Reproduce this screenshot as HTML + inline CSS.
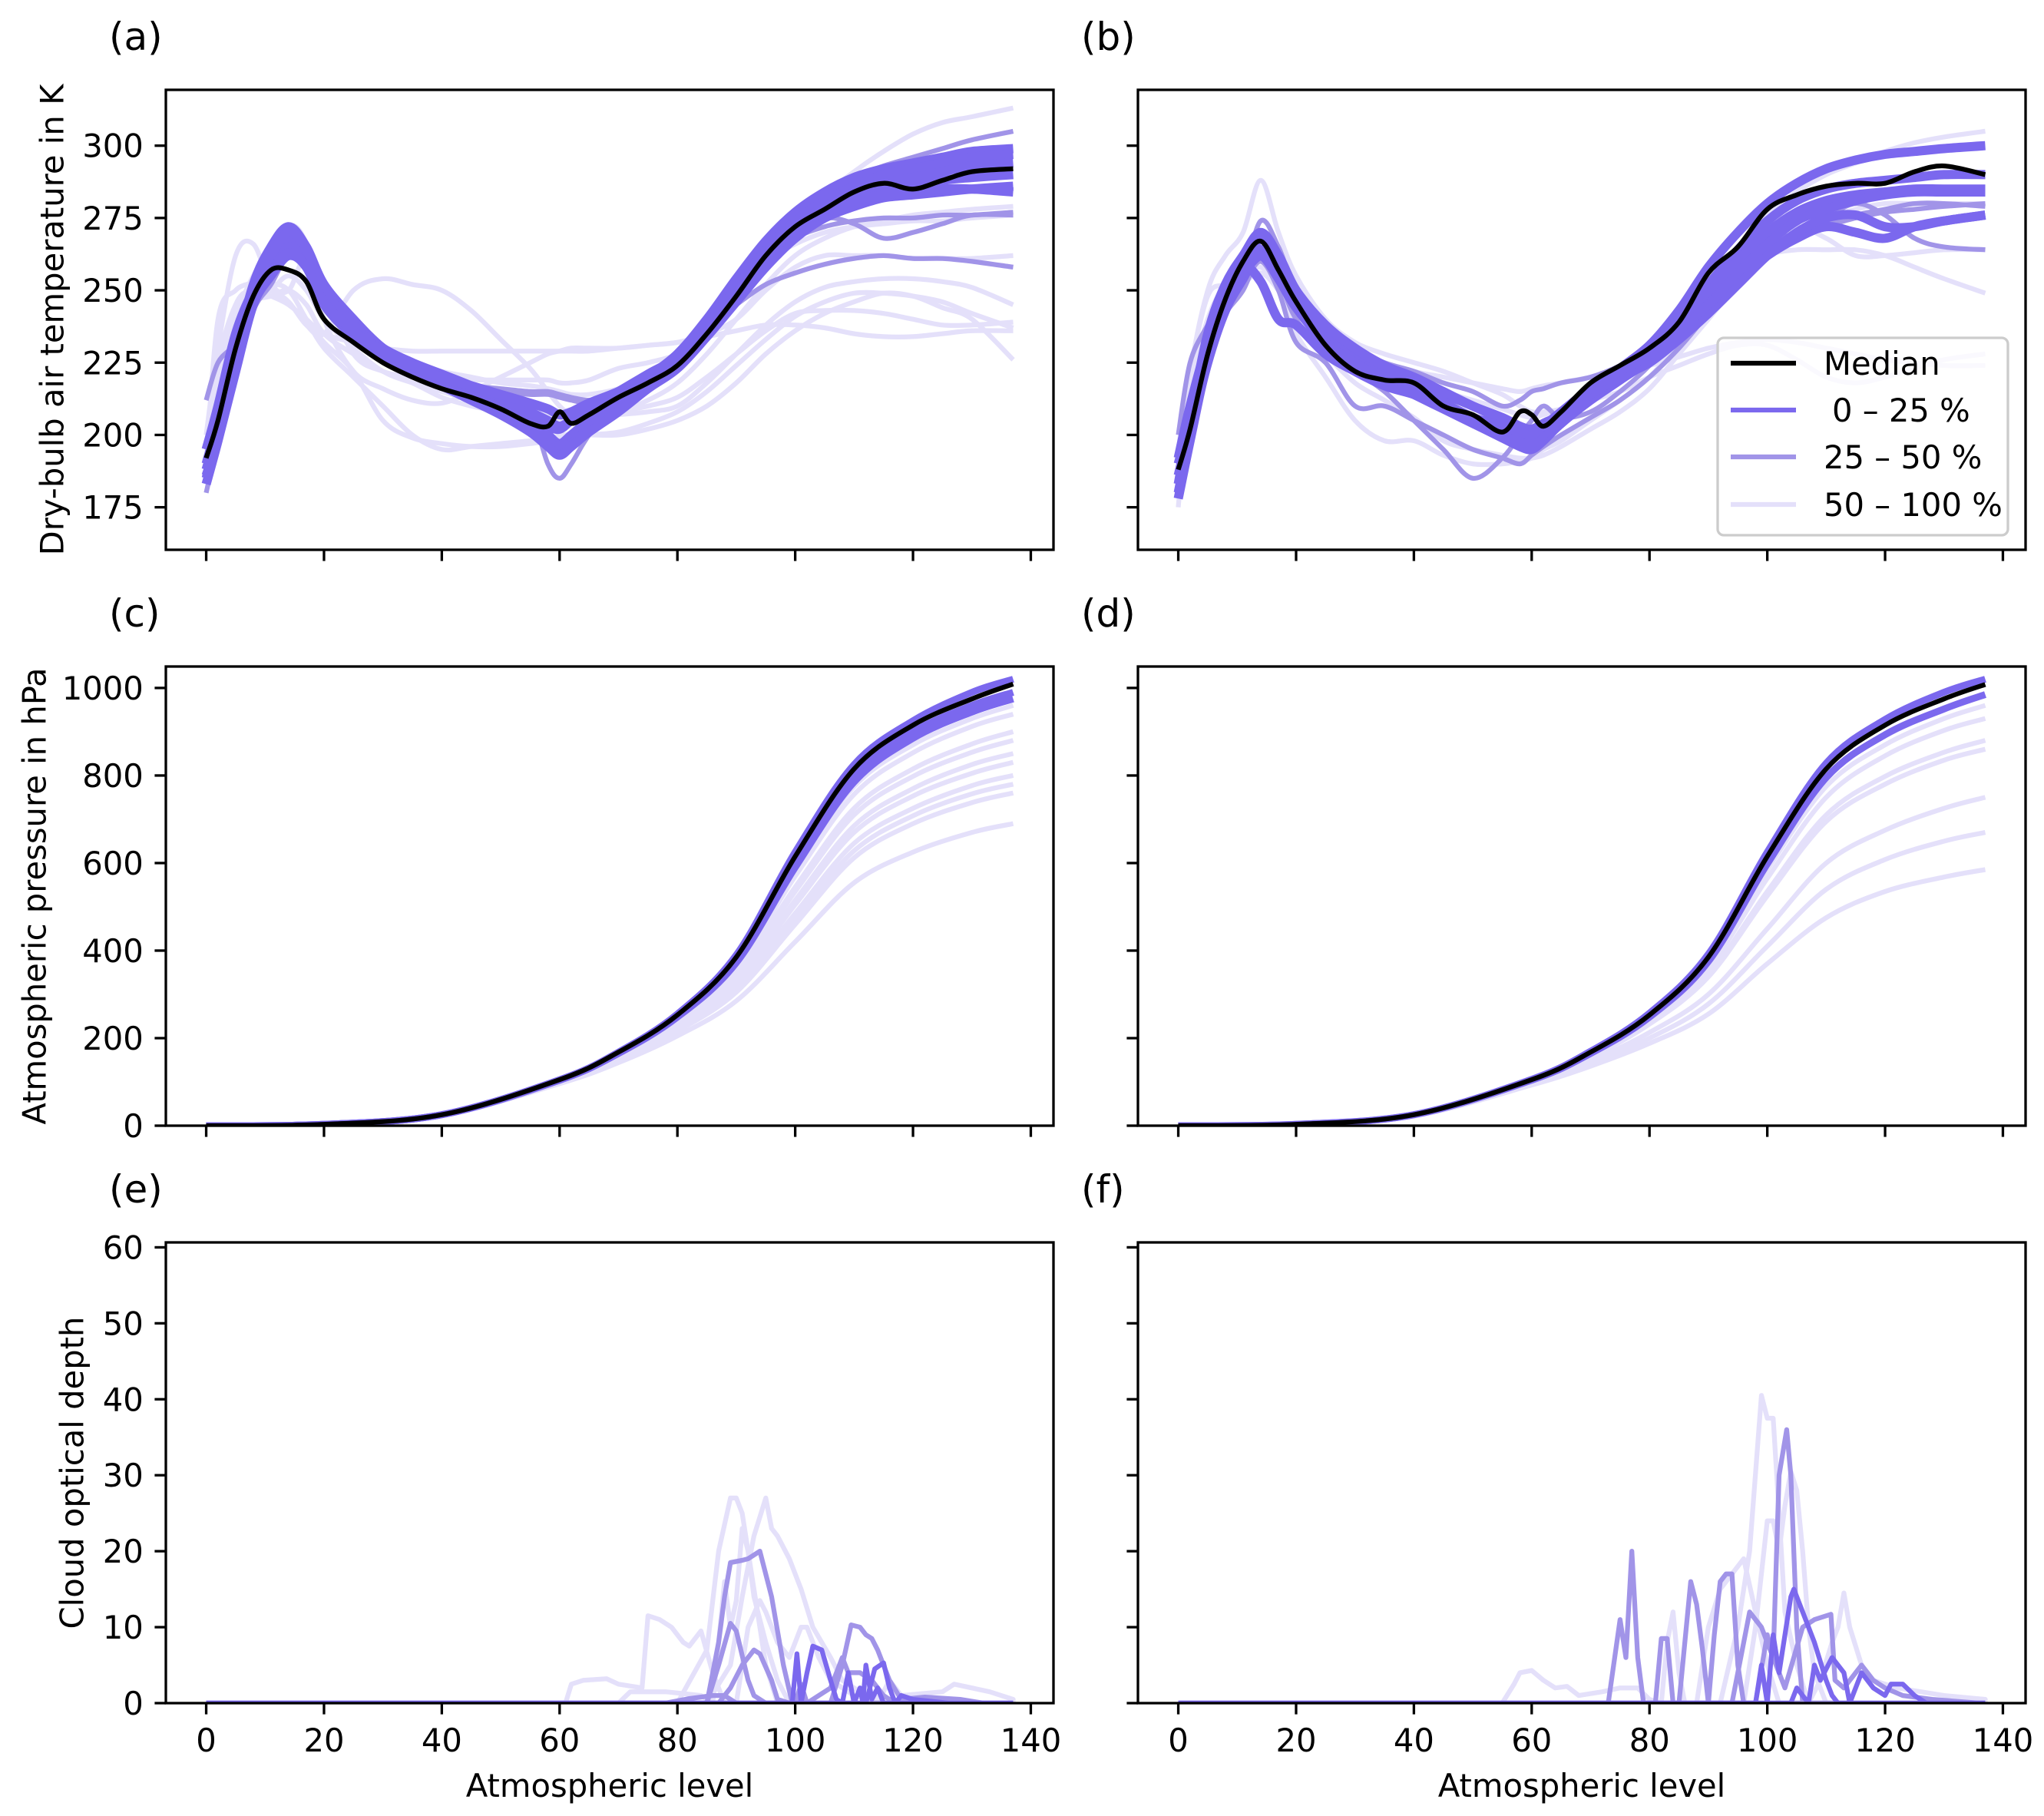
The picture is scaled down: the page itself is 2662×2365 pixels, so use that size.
<!DOCTYPE html>
<html><head><meta charset="utf-8"><style>
html,body{margin:0;padding:0;background:#fff}
svg{display:block}
text{font-family:"DejaVu Sans","Liberation Sans",sans-serif;fill:#000}
</style></head><body>
<svg id="fig" xmlns="http://www.w3.org/2000/svg" width="2662" height="2365" viewBox="0 0 2662 2365"></svg>
<script>
// ---------- data ----------
const levelsT = [0,2,5,8,11,14,17,20,25,30,35,40,45,50,55,58,60,62,65,70,75,80,85,90,95,100,105,110,115,120,125,130,137];
const levelsP = [0,20,40,60,70,80,90,100,110,120,130,137];
const xTicks = [0,20,40,60,80,100,120,140];
const yTicksT = [175,200,225,250,275,300];
const yTicksP = [0,200,400,600,800,1000];
const yTicksC = [0,10,20,30,40,50,60];
const legendLabels = ["Median","0 – 25 %","25 – 50 %","50 – 100 %"];

// panel a: temperature
const aMedian = [192,205,230,248,257,257,253,240,232,225,220,216,213,209,204,203,208,204,207,213,218,224,235,248,262,272,278,284,287,285,288,291,292];
const aDark1 = [185,200,228,252,265,272,265,252,240,230,224,219,215,210,205,200,197,200,205,212,220,228,240,254,267,277,284,289,292,294,296,298,299];
const aDark2 = [195,210,235,250,260,268,262,248,236,228,222,218,214,210,206,203,202,205,209,215,221,227,238,251,264,274,281,286,290,292,294,296,297];
const aDark3 = [183,198,222,245,255,262,258,245,234,226,221,217,213,208,203,198,195,197,202,210,217,224,236,249,262,272,279,284,287,289,291,293,294];
const aDark4 = [188,203,228,248,258,265,260,248,238,230,225,221,217,213,208,205,203,205,208,214,219,225,235,247,259,269,276,281,284,286,288,289,290];
const aDark5 = [190,205,230,250,262,270,264,250,238,228,222,217,212,207,201,196,193,196,201,208,216,223,234,246,258,268,275,279,282,283,284,285,286];
const aDark6 = [186,199,224,246,256,263,258,246,236,229,224,220,217,214,211,209,207,208,211,215,220,226,237,249,261,271,277,281,283,284,285,285,284];
const aMid1 = [212,225,232,246,253,262,260,247,235,228,222,218,214,211,207,190,185,190,200,212,220,227,237,245,252,256,259,261,262,261,261,260,258];
const aMid2 = [180,198,225,248,258,270,264,250,238,230,224,220,217,215,214,214,213,212,211,212,216,224,236,248,260,268,272,274,275,275,276,276,277];
const aMid3 = [185,200,222,243,252,262,258,245,235,228,222,219,217,216,215,215,214,213,212,213,218,226,238,250,262,270,275,273,268,270,273,276,276];
const aMid4 = [190,205,230,248,258,272,266,250,238,230,224,219,215,211,206,200,197,199,204,211,219,226,238,252,266,276,283,289,293,296,299,302,305];
const aLight1 = [200,230,262,266,252,250,262,250,228,222,220,219,219,219,219,219,218,218,219,223,225,228,235,248,262,274,283,291,298,304,308,310,313];
const aLight2 = [190,240,250,253,258,272,266,240,222,216,212,211,215,220,225,228,229,230,230,230,231,232,235,240,250,258,262,262,262,261,261,261,262];
const aLight3 = [195,225,245,250,250,245,240,232,222,205,199,197,196,196,197,198,200,200,200,200,202,205,210,218,228,236,242,246,249,248,244,240,226];
const aLight4 = [190,210,235,248,252,250,240,230,220,210,200,195,196,197,198,199,199,199,200,201,204,208,215,224,233,241,246,249,249,248,246,242,237];
const aLight5 = [195,215,240,250,250,246,238,235,250,254,252,250,243,233,223,215,210,207,206,207,208,210,218,228,238,246,251,253,254,254,253,251,245];
const aLight6 = [190,215,238,246,248,250,245,235,228,222,218,213,210,208,206,205,205,205,206,208,210,213,220,228,236,242,243,243,242,240,238,238,239];
const aLight7 = [195,215,240,255,262,268,260,250,240,230,225,222,220,218,217,216,215,214,214,216,220,226,238,250,260,266,270,272,273,274,274,275,276];
const aLight8 = [192,210,230,245,250,255,250,240,230,222,218,215,212,210,208,207,206,205,206,208,212,218,228,240,252,262,268,272,274,276,277,278,279];
const aLight9 = [188,220,245,250,248,245,240,235,232,230,229,229,229,229,229,229,229,229,229,230,231,232,234,236,238,238,237,235,234,234,235,236,236];

// panel b: temperature
const bMedian = [188,202,228,247,260,267,257,246,231,222,219,218,210,207,201,208,207,203,208,218,224,230,239,256,265,278,283,286,287,287,291,293,290];
const bDark1 = [183,205,235,252,262,270,262,250,236,228,222,218,214,210,205,201,199,202,207,215,223,231,243,258,270,280,287,292,295,297,298,299,300];
const bDark2 = [192,210,232,248,256,262,258,248,234,226,220,216,211,206,201,197,196,199,204,213,221,228,239,252,264,274,281,285,287,288,289,290,290];
const bDark3 = [180,200,225,243,254,264,258,246,232,224,219,214,209,204,199,196,195,198,204,212,219,226,236,249,260,270,277,281,283,284,285,285,285];
const bDark4 = [186,203,229,246,256,268,262,250,238,230,224,220,215,210,206,203,202,204,207,214,220,226,234,244,254,262,268,272,270,268,272,274,276];
const bDark5 = [178,198,226,246,256,262,254,244,232,225,219,215,210,205,200,198,197,200,206,214,220,225,233,242,252,262,270,275,276,272,272,274,276];
const bDark6 = [190,205,230,248,258,253,240,238,228,222,217,214,210,206,203,201,200,203,208,216,222,228,236,245,256,266,274,278,281,283,284,284,284];
const bMid1 = [186,205,230,242,250,262,254,240,228,222,215,205,195,185,192,200,205,210,206,208,215,224,236,248,258,266,270,275,280,276,268,265,264];
const bMid2 = [200,225,238,248,255,274,265,250,238,230,225,222,218,215,210,212,215,216,218,220,224,230,238,246,254,262,268,273,276,278,280,280,279];
const bMid3 = [192,210,232,245,252,260,250,232,225,210,210,205,200,195,192,190,193,196,200,206,212,220,230,242,254,262,268,272,275,277,278,279,280];
const bLight1 = [175,220,250,262,270,288,270,255,240,232,228,225,222,218,214,210,208,208,209,213,220,228,240,253,265,276,284,290,294,298,301,303,305];
const bLight2 = [190,215,240,252,258,262,255,245,236,228,222,218,215,212,209,207,206,207,209,212,215,220,224,228,231,231,226,220,218,220,223,226,228];
const bLight3 = [188,215,240,250,254,258,250,235,220,205,198,198,193,190,190,191,192,195,198,205,212,220,232,245,255,262,264,264,264,262,258,254,249];
const bLight4 = [180,210,238,252,258,262,256,245,232,224,220,218,215,210,205,200,198,200,205,213,220,228,238,250,260,268,272,268,262,262,263,264,264];
const bLight5 = [195,222,248,252,255,265,255,240,228,218,212,206,198,195,193,192,192,193,196,202,208,216,228,240,252,262,270,275,278,280,280,280,280];
const bLight6 = [185,210,232,245,252,256,250,240,232,228,225,222,220,218,216,215,216,217,218,220,222,224,227,230,232,233,232,230,228,226,225,224,224];

// panel c: pressure
const cMedian = [0,3,25,105,168,253,385,615,815,915,975,1009];
const cDark1 = [0,3,25,105,168,255,390,625,825,925,990,1020];
const cDark2 = [0,3,25,104,166,250,378,600,800,900,960,990];
const cDark3 = [0,3,25,104,165,248,372,590,785,885,945,975];
const cLight1 = [0,3,25,104,165,247,370,585,775,870,930,960];
const cLight2 = [0,3,25,103,163,244,362,570,757,852,912,940];
const cLight3 = [0,3,24,102,160,238,350,545,725,815,872,900];
const cLight4 = [0,3,24,101,158,235,345,535,710,798,853,880];
const cLight5 = [0,3,24,100,156,230,335,515,685,770,825,850];
const cLight6 = [0,3,24,100,155,228,330,505,670,753,805,830];
const cLight7 = [0,3,24,99,152,222,320,485,645,725,777,800];
const cLight8 = [0,3,24,98,150,219,313,472,628,708,758,780];
const cLight9 = [0,3,24,98,149,216,305,460,612,690,738,760];
const cLight10 = [0,3,23,96,144,205,285,420,555,625,670,690];

// panel d: pressure
const dMedian = [0,3,25,105,168,253,385,615,815,915,975,1008];
const dDark1 = [0,3,25,106,170,257,392,625,828,928,990,1020];
const dDark2 = [0,3,25,104,165,248,375,598,795,893,952,985];
const dLight1 = [0,3,25,104,165,247,370,585,775,870,930,960];
const dLight2 = [0,3,25,103,162,242,360,565,750,845,903,930];
const dLight3 = [0,3,24,101,158,235,345,535,710,798,853,880];
const dLight4 = [0,3,24,101,157,232,340,525,695,780,835,860];
const dLight5 = [0,3,24,98,148,213,300,450,600,675,725,750];
const dLight6 = [0,3,23,96,142,200,278,410,540,608,650,670];
const dLight7 = [0,3,22,93,136,188,255,370,475,535,568,585];

// panel e: cloud optical depth ([level, value] pairs; zero elsewhere)
const eLight1 = [[61,0],[62,2.5],[64,3],[68,3.2],[70,2.5],[74,2],[75,11.5],[77,11],[79,10],[81,8],[82,7.5],[84,9.5],[86,4],[88,0]];
const eLight2 = [[80,0],[85,7],[87,20],[89,27],[90,27],[91,25],[93,15],[95,5],[97,0]];
const eLight3 = [[85,0],[89,5],[91,14],[93,22],[95,27],[96,23],[97,22],[99,19],[101,15],[103,10],[106,6],[108,3],[112,1],[120,0]];
const eLight4 = [[86,0],[88,16],[89,10],[90,13.5],[91,23],[92,20],[93,14],[95,8],[97,3],[99,0]];
const eLight5 = [[90,0],[92,10],[94,13.5],[95,12],[97,8],[99,6],[101,10],[102,10],[104,6],[106,3],[110,1],[115,0]];
const eLight6 = [[70,0],[72,1.5],[78,1.5],[84,1],[86,0]];
const eLight7 = [[114,0],[116,3],[118,1],[125,1.5],[127,2.5],[133,1.5],[137,0.5]];
const eMid1 = [[85,0],[87,8],[88,14],[89,18.5],[91,18.8],[92,19],[94,20],[96,14],[98,5],[99.5,0]];
const eMid2 = [[85,0],[87,5],[89,10.5],[90,9.5],[92,3],[93,1],[95,0]];
const eMid3 = [[87,0],[89,2],[91,5],[93,7],[94,6.5],[96,3],[97,0.5],[99,0]];
const eMid4 = [[106,0],[108,5],[109.5,10.3],[111,10],[112,9],[113,8.5],[114,7],[116,3],[118,0.5],[122,0.8],[128,0.5],[132,0]];
const eMid5 = [[100,0],[101,2.5],[102,0],[104,1],[106,2],[108,6],[109,4],[111,4],[113,3],[115,1],[117,0]];
const eMid6 = [[78,0],[82,0.6],[86,1],[88,1],[90,0]];
const eDark1 = [[99.5,0],[100.3,6.5],[101,0],[102,4],[103,7.5],[104.5,7],[106,3],[107,0.5],[108,0],[109,4],[110,0],[111,2],[111.5,0],[112,5],[113,0.5],[114,2],[115,0]];
const eDark2 = [[112,0],[113.5,4.5],[115,5.3],[116,2],[117,0],[118,1],[120,0.5],[126,0]];

// panel f: cloud optical depth
const fLight1 = [[55,0],[57,2.5],[58,4],[60,4.3],[62,3],[64,2],[66,2.2],[68,1],[72,1.5],[75,2],[78,2],[80,0.5],[82,0]];
const fLight2 = [[92,0],[95,10],[97,20],[99,40.5],[100,37.5],[101,37.5],[102,25],[103,12],[105,5],[107,0]];
const fLight3 = [[96,0],[98,10],[100,24],[101,24],[102,20],[103,26],[104,30.5],[105,28],[106,20],[107,10],[108,4],[110,0]];
const fLight4 = [[88,0],[90,10],[92,15],[94,17],[96,19],[98,12],[100,5],[102,0]];
const fLight5 = [[107,0],[109,3],[111,8],[112,10],[113,14.5],[114,10],[116,5],[118,3],[122,2],[130,1],[137,0.5]];
const fLight6 = [[82,0],[83,8],[84,12],[85,4],[86,0]];
const fMid1 = [[73,0],[75,11],[76,6],[77,20],[78,6],[79,0]];
const fMid2 = [[81,0],[82,8.5],[83,8.5],[84,0]];
const fMid3 = [[85,0],[87,16],[88,13],[89,7],[90,0],[91,9],[92,16],[93,17],[94,17],[95,5],[96,0]];
const fMid4 = [[94,0],[97,12],[99,10],[101,6],[102,30],[103.3,36],[104,30],[105,10],[106,0]];
const fMid5 = [[98,0],[100,9],[101,6],[103,2],[106,10],[108,11],[110.8,11.7],[111.5,3],[113,2],[116,5],[118,3],[120,2],[123,1],[128,0.5],[136,0]];
const fDark1 = [[98,0],[99,5],[100,0],[101,9],[102,4],[104,14],[104.5,15],[106,12],[108,8],[110,3],[111,1],[112,0]];
const fDark2 = [[104,0],[105,2],[107,0],[108,5],[109,3],[111,6],[113,4],[114,0],[116,4],[118,2],[120,1],[121,2.5],[123,2.5],[125,1],[127,0]];

// ---------- rendering ----------
const NS = "http://www.w3.org/2000/svg";
const svg = document.getElementById("fig");
const COL = {dark:"#7b68ee", mid:"#a194e8", light:"#e4e0fa", median:"#000"};
const XLIM = [-6.85, 143.85];
const cols = [[216,1372],[1482,2638]];
const rows = [[117,716],[868,1466],[1618,2218]];
const ylims = [[160.3,319.3],[0,1049],[0,60.65]];
const FS = 41.7, TL = 14.6, LW = 6.25, AW = 3.3;

function el(tag, attrs, parent){
  const e = document.createElementNS(NS, tag);
  for (const k in attrs) e.setAttribute(k, attrs[k]);
  (parent||svg).appendChild(e);
  return e;
}
function makeAxes(ci, ri){
  const [x0,x1] = cols[ci], [y0,y1] = rows[ri], [v0,v1] = ylims[ri];
  return {
    x: v => x0 + (v - XLIM[0]) / (XLIM[1]-XLIM[0]) * (x1-x0),
    y: v => y1 - (v - v0) / (v1 - v0) * (y1-y0),
    x0, x1, y0, y1
  };
}
function pathD(P, smooth){
  if (!smooth) return "M" + P.map(p=>p[0].toFixed(1)+","+p[1].toFixed(1)).join(" L");
  let d = "M" + P[0][0].toFixed(1) + "," + P[0][1].toFixed(1);
  for (let i=0;i<P.length-1;i++){
    const p0 = P[Math.max(0,i-1)], p1 = P[i], p2 = P[i+1], p3 = P[Math.min(P.length-1,i+2)];
    const c1 = [p1[0]+(p2[0]-p0[0])/6, p1[1]+(p2[1]-p0[1])/6];
    const c2 = [p2[0]-(p3[0]-p1[0])/6, p2[1]-(p3[1]-p1[1])/6];
    d += " C"+c1[0].toFixed(1)+","+c1[1].toFixed(1)+" "+c2[0].toFixed(1)+","+c2[1].toFixed(1)+" "+p2[0].toFixed(1)+","+p2[1].toFixed(1);
  }
  return d;
}
function drawLine(g, ax, pts, color, width, name, smooth){
  const P = pts.map(q => [ax.x(q[0]), ax.y(q[1])]);
  const p = el("path", {d: pathD(P, smooth), fill:"none", stroke:color, "stroke-width":width, "stroke-linejoin":"round", "stroke-linecap":"butt"}, g);
  
  
}
function fromLevels(levels, vals){ return levels.map((l,i)=>[l, vals[i]]); }
function cloudPts(pairs){ return [[0,0]].concat(pairs, [[137,0]]); }

const panels = [
  {id:"a", c:0, r:0, label:"(a)", kind:"T", median:aMedian, dark:[aDark1,aDark2,aDark3,aDark4,aDark5,aDark6], mid:[aMid1,aMid2,aMid3,aMid4], light:[aLight1,aLight2,aLight3,aLight4,aLight5,aLight6,aLight7,aLight8,aLight9]},
  {id:"b", c:1, r:0, label:"(b)", kind:"T", median:bMedian, dark:[bDark1,bDark2,bDark3,bDark4,bDark5,bDark6], mid:[bMid1,bMid2,bMid3], light:[bLight1,bLight2,bLight3,bLight4,bLight5,bLight6]},
  {id:"c", c:0, r:1, label:"(c)", kind:"P", median:cMedian, dark:[cDark1,cDark2,cDark3], mid:[], light:[cLight1,cLight2,cLight3,cLight4,cLight5,cLight6,cLight7,cLight8,cLight9,cLight10]},
  {id:"d", c:1, r:1, label:"(d)", kind:"P", median:dMedian, dark:[dDark1,dDark2], mid:[], light:[dLight1,dLight2,dLight3,dLight4,dLight5,dLight6,dLight7]},
  {id:"e", c:0, r:2, label:"(e)", kind:"C", median:null, dark:[eDark1,eDark2], mid:[eMid1,eMid2,eMid3,eMid4,eMid5,eMid6], light:[eLight1,eLight2,eLight3,eLight4,eLight5,eLight6,eLight7]},
  {id:"f", c:1, r:2, label:"(f)", kind:"C", median:null, dark:[fDark1,fDark2], mid:[fMid1,fMid2,fMid3,fMid4,fMid5], light:[fLight1,fLight2,fLight3,fLight4,fLight5,fLight6]}
];
const yTickSets = {T:yTicksT, P:yTicksP, C:yTicksC};
const yLabels = {T:["Dry-bulb air temperature in K",68], P:["Atmospheric pressure in hPa",45], C:["Cloud optical depth",94]};

panels.forEach(pn => {
  const ax = makeAxes(pn.c, pn.r);
  const g = el("g", {});
  
  
  const clipId = "clip-" + pn.id;
  const cp = el("clipPath", {id:clipId}, g);
  el("rect", {x:ax.x0, y:ax.y0, width:ax.x1-ax.x0, height:ax.y1-ax.y0}, cp);
  const lines = el("g", {"clip-path":"url(#"+clipId+")"}, g);
  
  
  const toPts = s => pn.kind==="C" ? cloudPts(s) : fromLevels(pn.kind==="T"?levelsT:levelsP, s);
  const sm = pn.kind !== "C";
  pn.light.forEach((s,i)=>drawLine(lines, ax, toPts(s), COL.light, LW, "line-50-100-"+(i+1), sm));
  pn.mid.forEach((s,i)=>drawLine(lines, ax, toPts(s), COL.mid, LW, "line-25-50-"+(i+1), sm));
  pn.dark.forEach((s,i)=>drawLine(lines, ax, toPts(s), COL.dark, pn.kind==="C"?LW:(pn.kind==="T"?12:9), "line-0-25-"+(i+1), sm));
  if (pn.median) drawLine(lines, ax, toPts(pn.median), COL.median, LW, "median-line", sm);

  const fr = el("rect", {x:ax.x0, y:ax.y0, width:ax.x1-ax.x0, height:ax.y1-ax.y0, fill:"none", stroke:"#000", "stroke-width":AW}, g);
  
  

  xTicks.forEach(t => {
    const x = ax.x(t);
    const tk = el("line", {x1:x, x2:x, y1:ax.y1, y2:ax.y1+TL, stroke:"#000", "stroke-width":AW}, g);
    
    
    if (pn.r === 2) {
      const tl = el("text", {x:x, y:ax.y1+63, "font-size":FS, "text-anchor":"middle"}, g);
      tl.textContent = t;
      
      
    }
  });
  yTickSets[pn.kind].forEach(t => {
    const y = ax.y(t);
    const tk = el("line", {x1:ax.x0-TL, x2:ax.x0, y1:y, y2:y, stroke:"#000", "stroke-width":AW}, g);
    
    
    if (pn.c === 0) {
      const tl = el("text", {x:ax.x0-TL*2, y:y+15, "font-size":FS, "text-anchor":"end"}, g);
      tl.textContent = t;
      
      
    }
  });
  if (pn.c === 0) {
    const [txt, lx] = yLabels[pn.kind];
    const cy = (ax.y0+ax.y1)/2;
    const yt = el("text", {x:lx, y:cy, "font-size":FS, "text-anchor":"middle", transform:"rotate(-90 "+lx+" "+cy+")", "dominant-baseline":"central"}, g);
    yt.textContent = txt;
    
    
  }
  if (pn.r === 2) {
    const xt = el("text", {x:(ax.x0+ax.x1)/2, y:2340, "font-size":FS, "text-anchor":"middle"}, g);
    xt.textContent = "Atmospheric level";
    
    
  }
  const pl = el("text", {x:ax.x0-74, y:ax.y0-52, "font-size":50}, g);
  pl.textContent = pn.label;
  
  
});

// legend in panel b
const lg = el("g", {});


const lbox = el("rect", {x:2237, y:440, width:378, height:257, rx:8, ry:8, fill:"#fff", "fill-opacity":0.8, stroke:"#cccccc", "stroke-width":3.3}, lg);


const legendColors = [COL.median, COL.dark, COL.mid, COL.light];
const legendY = [473,534,595,657];
legendLabels.forEach((lab,i) => {
  const ln = el("line", {x1:2254, x2:2339, y1:legendY[i], y2:legendY[i], stroke:legendColors[i], "stroke-width":LW}, lg);
  
  
  const tx = el("text", {x: i===1 ? 2386 : 2375, y:legendY[i]+15, "font-size":FS}, lg);
  tx.textContent = lab;
  
  
});
</script>
</body></html>
